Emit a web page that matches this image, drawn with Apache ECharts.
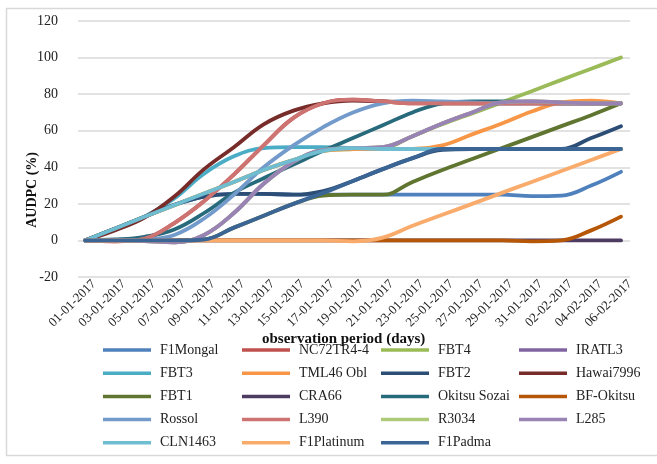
<!DOCTYPE html>
<html>
<head>
<meta charset="utf-8">
<script src="https://cdn.jsdelivr.net/npm/echarts@6/dist/echarts.min.js"></script>
<style>html,body{margin:0;padding:0;background:#fff;}#c{width:657px;height:464px;}</style>
</head>
<body>
<div id="c"></div>
<script>
var dates = ['01-01-2017','03-01-2017','05-01-2017','07-01-2017','09-01-2017','11-01-2017','13-01-2017','15-01-2017','17-01-2017','19-01-2017','21-01-2017','23-01-2017','25-01-2017','27-01-2017','29-01-2017','31-01-2017','02-02-2017','04-02-2017','06-02-2017'];
var yTicks = [-20, 0, 20, 40, 60, 80, 100, 120];

var F1Mongal    = [0, 6.4, 12.9, 19.4, 24, 25.5, 25.5, 25, 25, 25, 25, 25, 25, 25, 25, 24.2, 24.5, 30, 37.5];
var NC72TR4_4   = [0, -0.5, 1, 9.5, 21.5, 36, 52, 67, 75, 77, 76, 75, 75, 75, 75, 75, 75, 75, 75];
var FBT4        = [0, 6.4, 12.9, 19.3, 25.7, 32, 38.5, 44, 49, 50, 50.5, 57, 63.5, 69.5, 75.5, 81.6, 87.8, 93.9, 100];
var IRATL3      = [0, 0, -0.3, -1, 3, 15, 31, 43, 49.5, 50.5, 51, 57, 64, 70, 75.5, 76, 75.5, 75, 75];
var FBT3        = [0, 6.4, 13, 23, 36.5, 46, 50.5, 51, 51, 50.5, 50, 50, 50, 50, 50, 50, 50, 50, 50];
var TML46Obl    = [0, 6.4, 12.9, 19.3, 25.7, 32, 38.5, 44, 49, 50, 50, 50, 52, 58, 64, 70.5, 75.5, 76.5, 75];
var FBT2        = [0, 6.4, 12.9, 19.5, 24, 25.5, 25.5, 25, 27, 32.5, 39, 45, 49.5, 50, 50, 50, 50, 56, 62.5];
var Hawai7996   = [0, 5.5, 12.5, 24, 39, 51, 63.5, 71, 75, 76.5, 76, 75.5, 75, 75, 75, 75, 75, 75, 75];
var FBT1        = [0, 0, 0, 0, 0.5, 7, 13.5, 20, 24.5, 25, 25, 32, 38.5, 44.5, 50.5, 56.5, 62.5, 68.5, 75];
var CRA66       = [0, 0, 0, 0, 0, 0, 0, 0, 0, 0, 0, 0, 0, 0, 0, 0, 0, 0, 0];
var OkitsuSozai = [0, 0.5, 2, 6, 15, 26, 34, 41.5, 49, 56, 63, 70, 75, 76, 76, 75.5, 75, 75, 75];
var BFOkitsu    = [0, 0, 0, 0, 0, 0, 0, 0, 0, 0, 0, 0, 0, 0, 0, -0.5, 0, 5.5, 13];
var Rossol      = [0, 0, 0.5, 3, 12, 25, 40, 52, 62, 70, 75, 76.5, 76, 75.5, 75, 75, 75, 75, 75];
var L390        = [0, -0.5, 1, 9.5, 21.5, 36, 52, 67, 75, 77, 76, 75, 75, 75, 75, 75, 75, 75, 75];
var R3034       = [0, 0, -0.3, -1, 3, 15, 31, 43, 49.5, 50.5, 51, 57, 64, 70, 75.5, 76, 75.5, 75, 75];
var L285        = [0, 0, -0.3, -1, 3, 15, 31, 43, 49.5, 50.5, 51, 57, 64, 70, 75.5, 76, 75.5, 75, 75];
var CLN1463     = [0, 6.4, 12.9, 19.3, 25.7, 32, 38.5, 44, 49, 50.5, 50, 50, 50, 50, 50, 50, 50, 50, 50];
var F1Platinum  = [0, 0, 0, 0, 0, 0, 0, 0, 0, -0.5, 1.5, 8, 14, 20, 26, 32, 38, 44, 50];
var F1Padma     = [0, 0, 0, 0, 0.5, 7, 13.5, 20, 26, 32.5, 39, 45, 50, 50, 50, 50, 50, 50, 50];

var seriesNames = ['F1Mongal','NC72TR4-4','FBT4','IRATL3','FBT3','TML46 Obl','FBT2','Hawai7996','FBT1','CRA66','Okitsu Sozai','BF-Okitsu','Rossol','L390','R3034','L285','CLN1463','F1Platinum','F1Padma'];
var seriesData = [F1Mongal,NC72TR4_4,FBT4,IRATL3,FBT3,TML46Obl,FBT2,Hawai7996,FBT1,CRA66,OkitsuSozai,BFOkitsu,Rossol,L390,R3034,L285,CLN1463,F1Platinum,F1Padma];
var colors = ['#4F81BD','#C0504D','#9BBB59','#8064A2','#4BACC6','#F79646','#2C4D75','#772C2A','#5F7530','#4D3B62','#276A7C','#B65708','#729ACA','#CD7371','#AFC97A','#9983B5','#6FBDD1','#F9AB6B','#3A6595'];

var FONT = 'Liberation Serif';
var chart = echarts.init(document.getElementById('c'));

var series = seriesNames.map(function (n, i) {
  return {
    name: n, type: 'line', data: seriesData[i], xAxisIndex: 1, yAxisIndex: 1,
    smooth: 0.4, symbol: 'none', color: colors[i],
    lineStyle: { width: 3.8, color: colors[i], cap: 'round', join: 'round' },
    z: 3 + i * 0.01
  };
});

function colLegend(names, left) {
  return {
    data: names, orient: 'vertical', left: left, top: 343,
    icon: 'path://M0,0H48V3.5H0Z',
    itemWidth: 48, itemHeight: 14, itemGap: 9.2, padding: 0,
    textStyle: { fontFamily: FONT, fontSize: 14, color: '#222', padding: [0, 0, 0, 4] }
  };
}

chart.setOption({
  animation: false,
  backgroundColor: '#fff',
  color: colors,
  graphic: [
    { type: 'rect', shape: { x: 6.5, y: 8.5, width: 680, height: 447 }, style: { fill: 'none', stroke: '#d9d9d9', lineWidth: 1.5 }, silent: true },
    { type: 'text', left: 25, top: 152, rotation: Math.PI / 2, style: { text: 'AUDPC (%)', font: 'bold 14px "Liberation Serif"', fill: '#111' } },
    { type: 'text', left: 262, top: 332, style: { text: 'observation period (days)', font: 'bold 15px "Liberation Serif"', fill: '#111' } }
  ],
  grid: [
    { left: 78, right: 27, top: 21, bottom: 187 },
    { left: 85, right: 36, top: 21, bottom: 187 },
    { left: 94, right: 27, top: 21, bottom: 187 }
  ],
  xAxis: [
    { gridIndex: 0, type: 'value', min: 0, max: 1, show: false },
    { gridIndex: 1, type: 'category', data: dates, boundaryGap: false, show: false },
    { gridIndex: 2, type: 'category', data: dates, boundaryGap: false,
      position: 'bottom',
      axisLine: { show: false }, axisTick: { show: false },
      axisLabel: { rotate: 45, interval: 0, fontFamily: FONT, fontSize: 13, color: '#222', margin: 5 } }
  ],
  yAxis: [
    { gridIndex: 0, type: 'value', min: -20, max: 120, interval: 20,
      axisLine: { show: false }, axisTick: { show: false },
      axisLabel: { fontFamily: FONT, fontSize: 14, color: '#222', margin: 20 },
      splitLine: { lineStyle: { color: '#d9d9d9', width: 1.5 } } },
    { gridIndex: 1, type: 'value', min: -20, max: 120, interval: 20, show: false, splitLine: { show: false } },
    { gridIndex: 2, type: 'value', min: -20, max: 120, interval: 20, show: false, splitLine: { show: false } }
  ],
  legend: [
    colLegend(['F1Mongal','FBT3','FBT1','Rossol','CLN1463'], 103),
    colLegend(['NC72TR4-4','TML46 Obl','CRA66','L390','F1Platinum'], 242),
    colLegend(['FBT4','FBT2','Okitsu Sozai','R3034','F1Padma'], 381),
    colLegend(['IRATL3','Hawai7996','BF-Okitsu','L285'], 519)
  ],
  series: series
});
</script>
</body>
</html>
